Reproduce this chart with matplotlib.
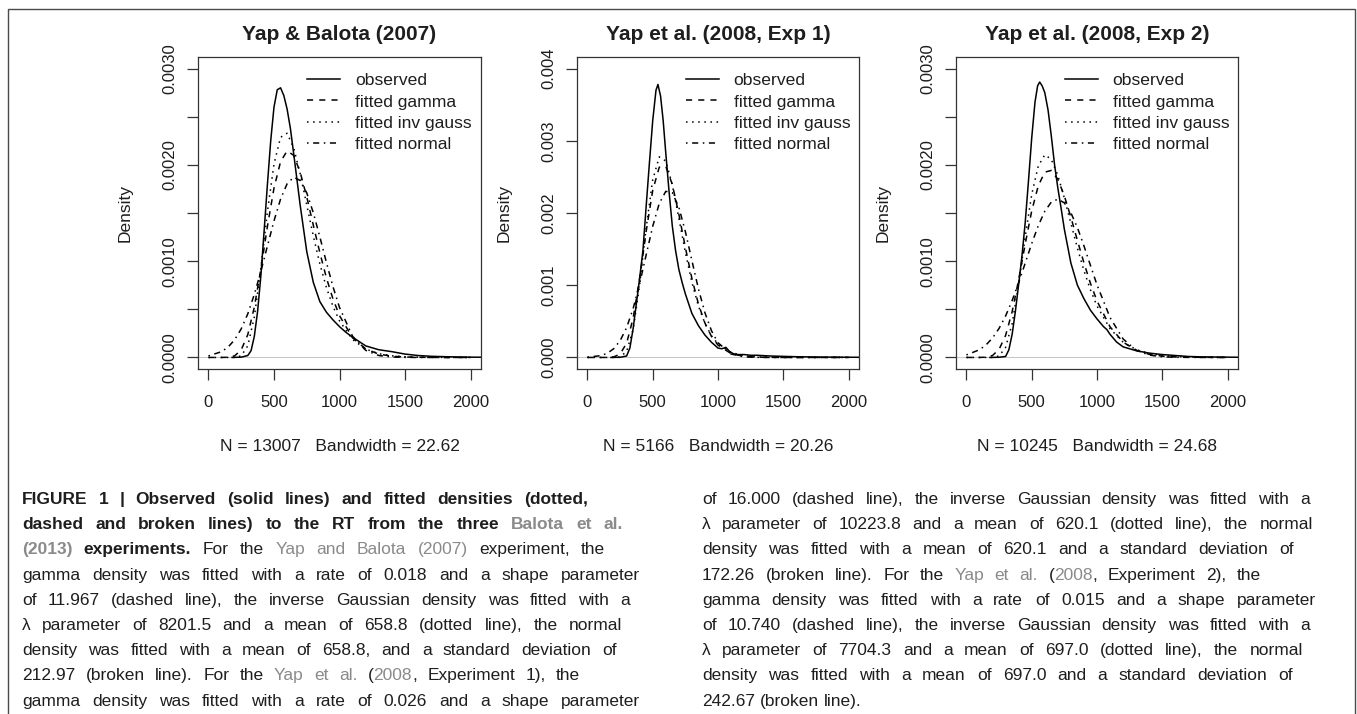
import matplotlib
matplotlib.use("Agg")
import matplotlib.pyplot as plt
from matplotlib.patches import Rectangle

plt.rcParams['font.family'] = ['Liberation Sans', 'DejaVu Sans']

# ---------------- data ----------------
titles = ["Yap & Balota (2007)", "Yap et al. (2008, Exp 1)", "Yap et al. (2008, Exp 2)"]
xlabels = ["N = 13007   Bandwidth = 22.62", "N = 5166   Bandwidth = 20.26",
           "N = 10245   Bandwidth = 24.68"]
legend_labels = ["observed", "fitted gamma", "fitted inv gauss", "fitted normal"]
x_ticks = [0, 500, 1000, 1500, 2000]

# observed densities
p1_obs_x = [180, 250, 300, 325, 350, 375, 400, 425, 450, 475, 500, 525, 550, 575, 600, 625, 650,
            675, 700, 750, 800, 850, 900, 950, 1000, 1050, 1100, 1200, 1300, 1400, 1500, 1600,
            1700, 1800, 1900, 2000, 2100]
p1_obs_y = [0, 0.000003, 0.00002, 0.00007, 0.00022, 0.00048, 0.00085, 0.00132, 0.0018, 0.00225,
            0.0026, 0.00278, 0.0028, 0.00272, 0.00258, 0.00238, 0.00212, 0.00185, 0.00158, 0.0011,
            0.00078, 0.00058, 0.00047, 0.00039, 0.00032, 0.00026, 0.00021, 0.00012, 0.00008,
            0.00006, 0.000035, 0.00002, 0.000012, 0.000008, 0.000005, 0.000003, 0.000002]

p2_obs_x = [180, 250, 300, 325, 350, 375, 400, 425, 450, 475, 500, 525, 540, 560, 580, 600, 625,
            650, 675, 700, 725, 750, 800, 850, 900, 950, 1000, 1030, 1060, 1090, 1120, 1150, 1200,
            1250, 1300, 1400, 1500, 1600, 1800, 2000, 2100]
p2_obs_y = [0, 0.000002, 0.00002, 0.00013, 0.0004, 0.00075, 0.0011, 0.00148, 0.0021, 0.0027,
            0.00328, 0.0037, 0.00378, 0.00362, 0.00328, 0.00283, 0.0023, 0.00182, 0.00148,
            0.00122, 0.00104, 0.00088, 0.00061, 0.00044, 0.00031, 0.00021, 0.00013, 0.00012,
            0.00014, 0.00008, 0.00005, 0.00004, 0.00004, 0.00003, 0.00003, 0.00002, 0.000015,
            0.00001, 0.000005, 0.000003, 0.000002]

p3_obs_x = [180, 250, 300, 325, 350, 375, 400, 425, 450, 475, 500, 525, 545, 561, 580, 600, 625,
            650, 675, 700, 725, 750, 800, 850, 900, 950, 1000, 1050, 1075, 1100, 1150, 1200, 1300,
            1400, 1500, 1600, 1700, 1800, 2000, 2100]
p3_obs_y = [0, 0.000002, 0.00001, 0.00008, 0.00024, 0.00048, 0.00076, 0.00105, 0.0014, 0.00183,
            0.00228, 0.00265, 0.00282, 0.00286, 0.00282, 0.00275, 0.00257, 0.0023, 0.002,
            0.00176, 0.00155, 0.00133, 0.00098, 0.00075, 0.00061, 0.00049, 0.0004, 0.00032,
            0.00029, 0.00024, 0.00016, 0.00011, 0.00007, 0.000045, 0.00003, 0.00002, 0.00001,
            0.000006, 0.000003, 0.000002]

# fitted densities, common x grid
fit_x = [0, 100, 150, 200, 250, 300, 350, 400, 450, 500, 550, 600, 650, 700, 750, 800, 850, 900,
         950, 1000, 1100, 1200, 1300, 1400, 1500, 1600, 1800, 2000]

p1_gamma = [0, 0, 0.0000018, 0.0000167, 0.000079, 0.000237, 0.000523, 0.00092, 0.001362, 0.001758,
            0.002032, 0.002145, 0.002099, 0.001923, 0.001667, 0.001374, 0.001088, 0.000827,
            0.000608, 0.000434, 0.000204, 0.0000876, 0.0000349, 0.000013, 0.0000046, 0.0000015,
            0, 0]
p1_invg = [0, 0, 0, 0.0000006, 0.0000165, 0.000121, 0.00042, 0.000929, 0.001516, 0.002007,
           0.002286, 0.002328, 0.002178, 0.001906, 0.001584, 0.001262, 0.000971, 0.000727,
           0.000531, 0.00038, 0.000186, 0.0000867, 0.0000388, 0.0000169, 0.0000072, 0.000003,
           0.0000005, 0]
p1_norm = [0.000016, 0.00006, 0.000108, 0.000184, 0.000297, 0.000453, 0.000655, 0.000895,
           0.001158, 0.001418, 0.001644, 0.001803, 0.001871, 0.001838, 0.001709, 0.001503,
           0.001252, 0.000987, 0.000736, 0.000519, 0.000219, 0.000074, 0.00002, 0.0000044,
           0.0000007, 0, 0, 0]

p2_gamma = [0, 0, 0.0000003, 0.0000061, 0.000047, 0.000197, 0.000543, 0.001096, 0.001747,
            0.002314, 0.002634, 0.002646, 0.002396, 0.001985, 0.001523, 0.001094, 0.00074,
            0.000476, 0.000291, 0.000171, 0.0000532, 0.0000146, 0.0000036, 0.000001, 0, 0, 0, 0]
p2_invg = [0, 0, 0, 0, 0.000007, 0.0000829, 0.000386, 0.001008, 0.001798, 0.002459, 0.002777,
           0.00272, 0.00239, 0.00193, 0.001456, 0.001041, 0.000712, 0.00047, 0.0003, 0.000187,
           0.0000684, 0.0000234, 0.0000076, 0.0000024, 0.0000007, 0, 0, 0]
p2_norm = [0.0000035, 0.0000243, 0.000056, 0.000119, 0.000231, 0.000413, 0.000677, 0.001024,
           0.001422, 0.001816, 0.002132, 0.0023, 0.002281, 0.00208, 0.001743, 0.001343, 0.00095,
           0.000619, 0.00037, 0.000204, 0.0000478, 0.000008, 0.000001, 0, 0, 0, 0, 0]

p3_gamma = [0, 0.0000001, 0.0000027, 0.0000206, 0.0000836, 0.000229, 0.000475, 0.000808,
            0.001178, 0.001522, 0.001782, 0.001924, 0.001942, 0.00185, 0.001677, 0.001456,
            0.001215, 0.000982, 0.000769, 0.000587, 0.000318, 0.000159, 0.0000743, 0.0000327,
            0.0000137, 0.0000055, 0.0000008, 0.0000001]
p3_invg = [0, 0, 0, 0.0000007, 0.0000157, 0.0001045, 0.00035, 0.000762, 0.001253, 0.001693,
           0.001988, 0.002104, 0.002057, 0.001891, 0.001655, 0.001393, 0.001136, 0.000902,
           0.000701, 0.000535, 0.000298, 0.000158, 0.0000813, 0.0000407, 0.00002, 0.0000096,
           0.000002, 0.0000005]
p3_norm = [0.0000266, 0.0000798, 0.00013, 0.000202, 0.000302, 0.000431, 0.000591, 0.000777,
           0.000979, 0.001183, 0.001368, 0.001518, 0.001613, 0.001644, 0.001605, 0.001502,
           0.001348, 0.001159, 0.000955, 0.000754, 0.000414, 0.000192, 0.000075, 0.0000247,
           0.0000069, 0.0000016, 0, 0]

y_tops = [0.003, 0.004, 0.003]
y_ticks_list = [[0, 0.0005, 0.001, 0.0015, 0.002, 0.0025, 0.003],
                [0, 0.001, 0.002, 0.003, 0.004],
                [0, 0.0005, 0.001, 0.0015, 0.002, 0.0025, 0.003]]
y_ticklabels_list = [["0.0000", "", "0.0010", "", "0.0020", "", "0.0030"],
                     ["0.000", "0.001", "0.002", "0.003", "0.004"],
                     ["0.0000", "", "0.0010", "", "0.0020", "", "0.0030"]]

caption_left = [
    [("FIGURE 1 | Observed (solid lines) and fitted densities (dotted,", "b")],
    [("dashed and broken lines) to the RT from the three ", "b"), ("Balota et al.", "gb")],
    [("(2013)", "gb"), (" experiments.", "b"), (" For the ", "n"), ("Yap and Balota (2007)", "g"),
     (" experiment, the", "n")],
    [("gamma density was fitted with a rate of 0.018 and a shape parameter", "n")],
    [("of 11.967 (dashed line), the inverse Gaussian density was fitted with a", "n")],
    [("λ parameter of 8201.5 and a mean of 658.8 (dotted line), the normal", "n")],
    [("density was fitted with a mean of 658.8, and a standard deviation of", "n")],
    [("212.97 (broken line). For the ", "n"), ("Yap et al.", "g"), (" (", "n"), ("2008", "g"),
     (", Experiment 1), the", "n")],
    [("gamma density was fitted with a rate of 0.026 and a shape parameter", "n")],
]
caption_right = [
    [("of 16.000 (dashed line), the inverse Gaussian density was fitted with a", "n")],
    [("λ parameter of 10223.8 and a mean of 620.1 (dotted line), the normal", "n")],
    [("density was fitted with a mean of 620.1 and a standard deviation of", "n")],
    [("172.26 (broken line). For the ", "n"), ("Yap et al.", "g"), (" (", "n"), ("2008", "g"),
     (", Experiment 2), the", "n")],
    [("gamma density was fitted with a rate of 0.015 and a shape parameter", "n")],
    [("of 10.740 (dashed line), the inverse Gaussian density was fitted with a", "n")],
    [("λ parameter of 7704.3 and a mean of 697.0 (dotted line), the normal", "n")],
    [("density was fitted with a mean of 697.0 and a standard deviation of", "n")],
    [("242.67 (broken line).", "n")],
]
left_ends = [588, 623, 605, 640, 630, 622, 617, 580, 640]
right_ends = [1310, 1313, 1294, 1261, 1316, 1310, 1303, 1293, None]

# ---------------- figure ----------------
W, H = 1357, 714
fig = plt.figure(figsize=(W / 100, H / 100), dpi=100)
fig.patch.set_facecolor("white")

INK = "#1e1e1e"
GRAY_TXT = "#8a8a8a"

def px_box(l, t, r, b):
    return [l / W, 1 - b / H, (r - l) / W, (b - t) / H]

axes_boxes = [px_box(198, 57, 481, 369), px_box(577, 57, 859, 369), px_box(956, 57, 1238, 369)]
obs = [(p1_obs_x, p1_obs_y), (p2_obs_x, p2_obs_y), (p3_obs_x, p3_obs_y)]
fits = [(p1_gamma, p1_invg, p1_norm), (p2_gamma, p2_invg, p2_norm), (p3_gamma, p3_invg, p3_norm)]

LW = 1.1
styles = ["-", (0, (4, 4)), (0, (1, 3)), (0, (1, 3, 4, 3))]

for i in range(3):
    ax = fig.add_axes(axes_boxes[i])
    ox, oy = obs[i]
    g, ig, nm = fits[i]
    ax.axhline(0, color="#c4c4c4", lw=0.7, zorder=0)
    ax.plot(ox, oy, color="black", lw=LW, ls=styles[0], label=legend_labels[0])
    ax.plot(fit_x, g, color="black", lw=LW, ls=styles[1], label=legend_labels[1])
    ax.plot(fit_x, ig, color="black", lw=LW, ls=styles[2], label=legend_labels[2])
    ax.plot(fit_x, nm, color="black", lw=LW, ls=styles[3], label=legend_labels[3])
    top = y_tops[i]
    ax.set_xlim(-80, 2080)
    ax.set_ylim(-0.04 * top, 1.04 * top)
    ax.set_xticks(x_ticks)
    ax.set_xticklabels([str(v) for v in x_ticks])
    ax.set_yticks(y_ticks_list[i])
    ax.set_yticklabels(y_ticklabels_list[i], rotation=90, va="center")
    for s in ax.spines.values():
        s.set_linewidth(0.9)
        s.set_color("#333333")
    ax.tick_params(axis="both", direction="out", length=8, width=0.9, color="#333333",
                   labelsize=12, labelcolor=INK)
    ax.tick_params(axis="x", pad=11)
    ax.tick_params(axis="y", pad=7)
    ax.text(0.5, 1.0529, titles[i], transform=ax.transAxes, ha="center", va="baseline",
            fontsize=15, fontweight="bold", color=INK)
    ax.text(0.5, -0.2635, xlabels[i], transform=ax.transAxes, ha="center", va="baseline",
            fontsize=12.5, color=INK)
    ax.text(-0.258, 0.5, "Density", transform=ax.transAxes, ha="center", va="center",
            rotation=90, fontsize=12.5, color=INK)
    leg = ax.legend(loc="upper left", bbox_to_anchor=(0.385, 0.949), frameon=False,
                    fontsize=12.6, handlelength=1.9, handletextpad=0.85, labelspacing=0.35,
                    borderpad=0, borderaxespad=0)
    for t in leg.get_texts():
        t.set_color(INK)

# outer frame
fig.add_artist(Rectangle((7.5 / W, -0.2), (1355 - 7.5) / W, 1.2 - 9 / H,
                         transform=fig.transFigure, fill=False, edgecolor="#4a4a4a", lw=1.0))

# ---------------- caption (justified words) ----------------
FS = 12.5
renderer = fig.canvas.get_renderer()
style_map = {"n": ("normal", INK), "b": ("bold", INK), "g": ("normal", GRAY_TXT),
             "gb": ("bold", GRAY_TXT)}

def words_of(runs):
    chars = []
    for txt, st in runs:
        for ch in txt:
            chars.append((ch, st))
    words, cur = [], []
    for ch, st in chars:
        if ch == " ":
            if cur:
                words.append(cur)
                cur = []
        else:
            if cur and cur[-1][1] == st:
                cur[-1] = (cur[-1][0] + ch, st)
            else:
                cur.append((ch, st))
    if cur:
        words.append(cur)
    return words

def draw_line(runs, x0, xend, yc):
    words = words_of(runs)
    ybase = 1 - (yc + 6) / H
    arts = []
    widths = []
    for w in words:
        pieces = []
        wsum = 0
        for txt, st in w:
            fw, col = style_map[st]
            t = fig.text(0, ybase, txt, fontsize=FS, fontweight=fw, color=col,
                         ha="left", va="baseline")
            wd = t.get_window_extent(renderer).width
            pieces.append((t, wd))
            wsum += wd
        arts.append(pieces)
        widths.append(wsum)
    space = 0.278 * FS * 100 / 72
    total = sum(widths)
    if xend is None or len(words) < 2:
        gap = space
    else:
        gap = max(space, (xend - x0 - total) / (len(words) - 1))
    x = x0
    for pieces, wsum in zip(arts, widths):
        xx = x
        for t, wd in pieces:
            t.set_x(xx / W)
            xx += wd
        x += wsum + gap

LINE0, PITCH = 498, 25.2
for k, runs in enumerate(caption_left):
    draw_line(runs, 22, left_ends[k], LINE0 + k * PITCH)
for k, runs in enumerate(caption_right):
    draw_line(runs, 702, right_ends[k], LINE0 + k * PITCH)

fig.savefig("out.png", dpi=100, facecolor="white")
